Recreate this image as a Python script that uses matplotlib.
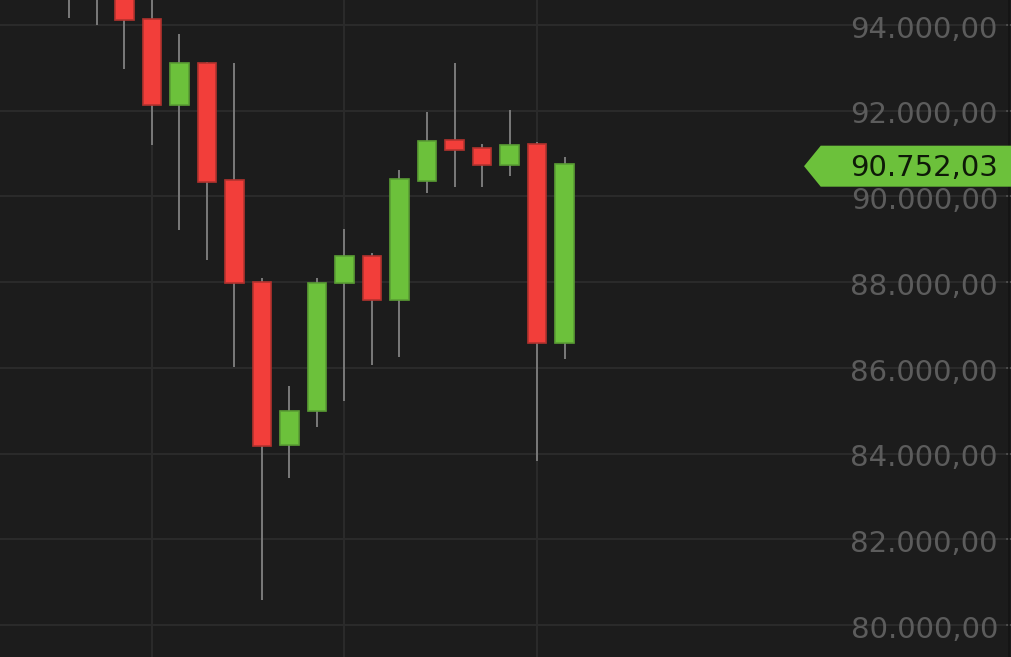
import matplotlib
matplotlib.use("Agg")
import matplotlib.pyplot as plt
from matplotlib.patches import Rectangle, Polygon
from matplotlib.transforms import blended_transform_factory

# ---- data ----
opens  = [95200, 94900, 94800, 94133, 92126, 93106, 90376, 87997, 84193, 84993,
          87973, 88617, 87576, 90353, 91317, 91123, 90740, 91216, 86573]
closes = [94900, 94700, 94117, 92126, 93106, 90344, 87980, 84188, 85000, 87987,
          88617, 87576, 90414, 91300, 91076, 90740, 91207, 86573, 90752.03]
highs  = [95600, 95300, 95300, 94900, 93790, 93144, 93120, 88097, 85577, 88097,
          89240, 88673, 90617, 91970, 93106, 91216, 92017, 91263, 90913]
lows   = [94160, 94000, 92973, 91200, 89217, 88517, 86027, 80583, 83437, 84627,
          85234, 86067, 86260, 90087, 90227, 90227, 90484, 83834, 86214]
price_ticks = [80000, 82000, 84000, 86000, 88000, 90000, 92000, 94000]
week_lines = [3, 10, 17]
last_price = 90752.03

# ---- style ----
BG = "#1c1c1c"
GRID = "#2a2a2a"
UP = "#6cc13b"
UP_EDGE = "#5a9e34"
DOWN = "#f23e3a"
DOWN_EDGE = "#b3322e"
WICK = "#7a7a7a"
LABEL = "#5c5c5c"

def de_fmt(v):
    s = f"{v:,.2f}"
    return s.replace(",", "X").replace(".", ",").replace("X", ".")

fig = plt.figure(figsize=(10.11, 6.57), dpi=100, facecolor=BG)
ax = fig.add_axes([0, 0, 1, 1], facecolor=BG)
ax.set_xlim(-2.527, 34.236)
ax.set_ylim(79253, 94583)
ax.axis("off")

# grid
for v in price_ticks:
    ax.axhline(v, color=GRID, lw=1.5, zorder=0)
for i in week_lines:
    ax.axvline(i, color=GRID, lw=1.5, zorder=0)

# candles
bw = 0.67
for i, (o, c, h, l) in enumerate(zip(opens, closes, highs, lows)):
    up = c >= o
    ax.vlines(i, l, h, color=WICK, lw=1.4, zorder=2)
    lo, hi = min(o, c), max(o, c)
    ax.add_patch(Rectangle((i - bw / 2, lo), bw, hi - lo,
                           facecolor=UP if up else DOWN,
                           edgecolor=UP_EDGE if up else DOWN_EDGE,
                           lw=1.2, zorder=3))

# right axis labels
tr = blended_transform_factory(ax.transAxes, ax.transData)
for v in price_ticks:
    ax.text(0.9871, v - 110, de_fmt(v), transform=tr, ha="right", va="center",
            fontsize=21, color=LABEL, family="DejaVu Sans", zorder=4)
    ax.plot([0.9965, 1.0], [v, v], transform=tr, color="#555555", lw=1.2, zorder=5)

# right edge line
ax.plot([0.9985, 0.9985], [0, 1], transform=ax.transAxes, color="#141414", lw=1.2, zorder=5)

# last price tag
half = 20.5 * 23.333
yc = last_price - 2 * 23.333
tag = Polygon([(0.7953, yc), (0.8118, yc + half), (1.0, yc + half),
               (1.0, yc - half), (0.8118, yc - half)],
              closed=True, transform=tr, facecolor=UP, edgecolor="none", zorder=6)
ax.add_patch(tag)
ax.text(0.9871, yc - 50, de_fmt(last_price), transform=tr, ha="right", va="center",
        fontsize=21, color="#0e1a08", family="DejaVu Sans", zorder=7)

fig.savefig("out.png", dpi=100, facecolor=BG)
